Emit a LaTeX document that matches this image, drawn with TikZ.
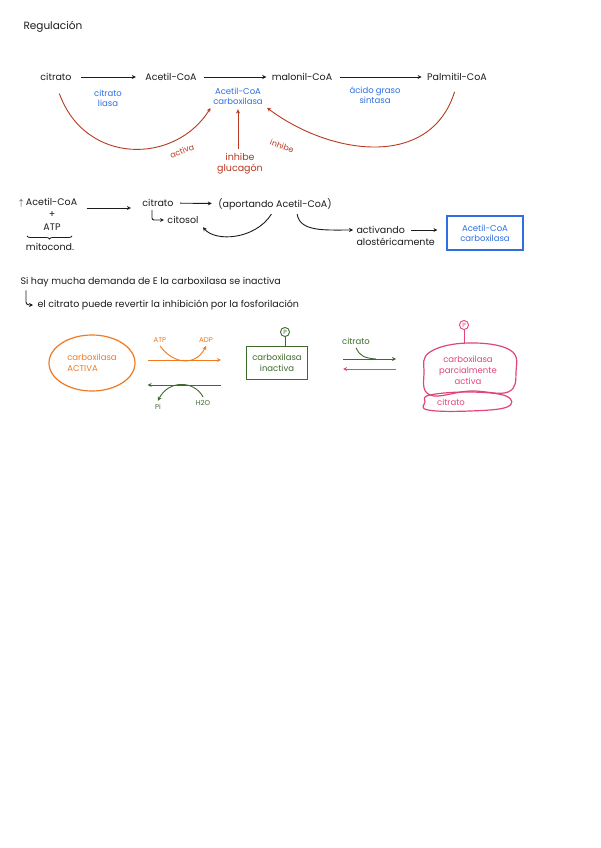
\documentclass[tikz,border=0pt]{standalone}
\usepackage{fontspec}
\setmainfont{Poppins}
\usetikzlibrary{positioning,arrows.meta,shapes.geometric,decorations.pathreplacing}
\definecolor{tinta}{HTML}{1C1C1C}
\definecolor{azul}{HTML}{2E6FE2}
\definecolor{rojo}{HTML}{B8391F}
\definecolor{naranja}{HTML}{F07A22}
\definecolor{verde}{HTML}{3E6A2C}
\definecolor{rosa}{HTML}{E0457E}
\tikzset{
  flecha/.style={-{Stealth[length=4pt,width=4pt]},line width=0.9pt},
  enz/.style={azul,align=center,inner sep=1pt,font=\fontsize{8.5}{10}\selectfont},
  fosfato/.style={circle,draw,line width=0.9pt,inner sep=1.3pt,font=\fontsize{6}{6}\selectfont}
}
\begin{document}
\begin{tikzpicture}[x=1pt,y=-1pt,font=\fontsize{9.5}{11}\selectfont,tinta,node distance=2pt]
\useasboundingbox[fill=white] (0,0) rectangle (601,848);
\node[anchor=west,font=\fontsize{10.5}{12}\selectfont] (tit) at (20,27) {Regulación};

% ruta de sintesis
\node (cit) at (56,77) {citrato};
\node (acoa) at (171,77) {Acetil-CoA};
\node (mal) at (302,77) {malonil-CoA};
\node (pal) at (457,77) {Palmitil-CoA};
\draw[flecha,shorten <=6pt,shorten >=6pt] (cit) -- (acoa);
\draw[flecha,shorten <=4pt,shorten >=2pt] (acoa) -- (mal);
\draw[flecha,shorten <=4pt,shorten >=2pt] (mal) -- (pal);
\node[enz] (liasa) at (108,98) {citrato\\liasa};
\node[enz] (acc) at (238,96) {Acetil-CoA\\carboxilasa};
\node[enz] (fas) at (375,95) {ácido graso\\sintasa};

% regulacion
\draw[flecha,rojo,shorten <=10pt,shorten >=3pt] (cit.south) .. controls (85,165) and (175,165) .. (acc.south west);
\node[rojo,rotate=20,font=\fontsize{8}{9}\selectfont] (actv) at (182,151) {activa};
\node[rojo,align=center] (glu) at (240,164) {inhibe\\glucagón};
\draw[flecha,rojo,shorten <=1pt,shorten >=4pt] (glu.north -| acc.south) -- (acc.south);
\draw[flecha,rojo,shorten <=8pt,shorten >=4pt] (pal.south) .. controls (430,170) and (330,155) .. (acc.south east);
\node[rojo,rotate=-20,font=\fontsize{8}{9}\selectfont] (inh) at (282,146) {inhibe};

% citrato al citosol
\node (acoa2) at (48,203) {$\uparrow$ Acetil-CoA};
\node (mas) at (52,215) {+};
\node (atp0) at (52,227) {ATP};
\node (mito) at (50,247) {mitocond.};
\draw[decorate,decoration={brace,amplitude=3pt,mirror},line width=0.8pt] (27,236) -- (72,236);
\node (cit2) at (158,203) {citrato};
\node (apor) at (275,204) {(aportando Acetil-CoA)};
\node (cyt) at (183,220) {citosol};
\draw[flecha,shorten <=6pt,shorten >=8pt] (acoa2.east |- 0,208) -- (cit2.west |- 0,208);
\draw[flecha,shorten <=3pt,shorten >=3pt] (cit2) -- (apor);
\draw[flecha,rounded corners=2pt] ([xshift=-6pt]cit2.south) |- (cyt.west);
\draw[flecha,shorten <=1pt] ([xshift=-3pt]apor.south) .. controls (255,240) and (215,242) .. ([xshift=20pt]cyt.south);
\node[anchor=west] (activ) at (353,230) {activando};
\node[anchor=west] (alos) at (353,242) {alostéricamente};
\draw[flecha,shorten <=1pt] ([xshift=22pt]apor.south) .. controls (300,232) and (325,230) .. (activ.west);
\node[draw=azul,line width=1.1pt,enz,minimum width=76pt,minimum height=34pt] (acc2) at (485,233) {Acetil-CoA\\carboxilasa};
\draw[flecha,shorten <=3pt,shorten >=9pt] (activ.east) -- (activ.east -| acc2.west);

% fosforilacion
\node[anchor=west] (dem) at (17,282) {Si hay mucha demanda de E la carboxilasa se inactiva};
\node[anchor=west] (rev) at (34,305) {el citrato puede revertir la inhibición por la fosforilación};
\draw[flecha,rounded corners=3pt] ([xshift=9pt]dem.south west) |- ([xshift=-1pt]rev.west);

\node[ellipse,draw=naranja,line width=1.2pt,naranja,align=left,minimum width=86pt,minimum height=56pt,font=\fontsize{8.5}{10.5}\selectfont] (activa) at (92,363) {carboxilasa\\ACTIVA};
\node[draw=verde,line width=1.2pt,verde,align=center,minimum width=61pt,minimum height=33pt,font=\fontsize{8.5}{10.5}\selectfont] (inact) at (277,363) {carboxilasa\\inactiva};
\node[fosfato,verde] (p1) at (285,332) {P};
\draw[verde,line width=0.9pt] (p1) -- (p1 |- inact.north);

\draw[flecha,naranja,shorten <=12pt,shorten >=25pt] (activa.east |- 0,360) -- (inact.west |- 0,360);
\draw[flecha,verde,shorten <=25pt,shorten >=12pt] (inact.west |- 0,385) -- (activa.east |- 0,385);
\node[naranja,font=\fontsize{7}{8}\selectfont] (atp) at (160,340) {ATP};
\node[naranja,font=\fontsize{7}{8}\selectfont] (adp) at (206,340) {ADP};
\draw[flecha,naranja] (atp.south) .. controls (174,365) and (196,366) .. (adp.south);
\node[verde,font=\fontsize{7}{8}\selectfont] (pi) at (158,407) {Pi};
\node[verde,font=\fontsize{7}{8}\selectfont] (agua) at (203,403) {H2O};
\draw[flecha,verde] (agua.north) .. controls (194,380) and (168,380) .. (pi.north);

% parcialmente activa
\draw[rosa,line width=1.2pt] plot[smooth cycle,tension=0.7] coordinates {(430,352) (468,343) (510,350) (516,372) (508,392) (470,391) (430,395) (424,372)};
\draw[rosa,line width=1.2pt] plot[smooth cycle,tension=0.7] coordinates {(430,395) (470,392) (506,396) (507,407) (470,411) (428,410) (425,402)};
\node[rosa,align=center,font=\fontsize{8.5}{11}\selectfont] (parc) at (468,370) {carboxilasa\\parcialmente\\activa};
\node[rosa,font=\fontsize{8.5}{10}\selectfont] (citp) at (451,402) {citrato};
\node[fosfato,rosa] (p2) at (464,325) {P};
\draw[rosa,line width=0.9pt] (p2) -- (464,343);

\node[verde,font=\fontsize{8.5}{10}\selectfont] (cit3) at (356,341) {citrato};
\draw[flecha,verde,shorten <=35pt,shorten >=29pt] (inact.east |- 0,359) -- (425,359);
\draw[verde,line width=0.9pt] (cit3.south) .. controls (360,356) and (364,358) .. (376,359);
\draw[flecha,rosa,shorten <=29pt,shorten >=35pt] (425,369) -- (inact.east |- 0,369);
\end{tikzpicture}
\end{document}
